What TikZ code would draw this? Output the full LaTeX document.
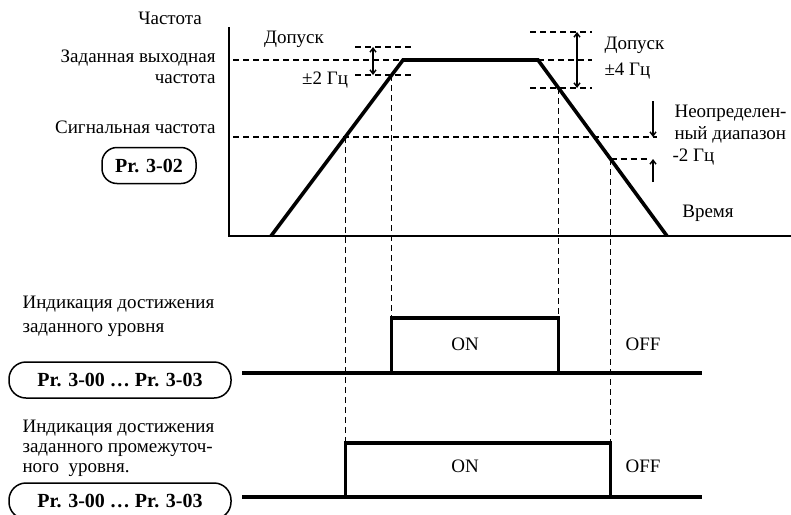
\documentclass[tikz,border=0pt]{standalone}
\usepackage{fontspec}
\setmainfont{Liberation Serif}
\usetikzlibrary{arrows.meta,calc}

\begin{document}
\begin{tikzpicture}[x=1pt,y=-1pt,>={Straight Barb[length=4pt,width=6pt]},
  font=\fontsize{19}{21}\selectfont,
  ramp/.style={line width=3.6pt},
  pulse/.style={line width=3.4pt},
  guide/.style={dash pattern=on 6pt off 4pt,line width=1.4pt},
  prbox/.style={draw,line width=1.5pt,rounded corners=17pt,minimum height=36pt,
    inner sep=2pt,font=\fontsize{20}{22}\selectfont\bfseries}]
  \useasboundingbox (0,0) rectangle (791,514);
  \clip (0,0) rectangle (791,514);
  % axes
  \coordinate (O) at (229,236);
  \draw[line width=1.4pt] (229,27) -- (O) -- (791,236);
  % frequency profile
  \coordinate (r0) at (271,236);
  \coordinate (r1) at (403,60);
  \coordinate (r2) at (538,60);
  \coordinate (r3) at (667,236);
  \draw[ramp,line join=miter] (r0) -- (r1) -- (r2) -- (r3);
  \coordinate (a1) at ($(r0)!{99/176}!(r1)$);
  \coordinate (a2) at ($(r0)!{161/176}!(r1)$);
  \coordinate (a3) at ($(r2)!{28/176}!(r3)$);
  \coordinate (a4) at ($(r2)!{99/176}!(r3)$);
  % levels
  \draw[guide] (233,60) -- (r1);
  \draw[guide] (r2) -- (592,60);
  \draw[guide] (355,47) -- (413,47);
  \draw[guide] (355,75) -- (413,75);
  \draw[<->,line width=1.4pt] (373,47) -- (373,75);
  \draw[guide] (530,32) -- (592,32);
  \draw[guide] (530,88) -- (592,88);
  \draw[<->,line width=1.4pt] (577,32) -- (577,88);
  \draw[guide] (233,137) -- (657,137);
  \draw[guide] (a4) -- (647,159);
  \draw[->,line width=1.4pt] (653,101) -- (653,137);
  \draw[->,line width=1.4pt] (653,182) -- (653,159);
  % signals
  \coordinate (ub) at (242,373);
  \coordinate (ut) at (242,318);
  \coordinate (lb) at (242,497);
  \coordinate (lt) at (242,443);
  \draw[guide] (a1) -- (a1 |- lt);
  \draw[guide] (a2) -- (a2 |- ut);
  \draw[guide] (a3) -- (a3 |- ut);
  \draw[guide] (a4) -- (a4 |- lt);
  \draw[pulse] (ub) -- (702,373);
  \draw[pulse] (a2 |- ub) -- (a2 |- ut) -- (a3 |- ut) -- (a3 |- ub);
  \draw[pulse] (lb) -- (702,497);
  \draw[pulse] (a1 |- lb) -- (a1 |- lt) -- (a4 |- lt) -- (a4 |- lb);
  % labels
  \node[anchor=mid] (freq) at (170,22) {Частота};
  \node[anchor=mid] (tol2) at (294,41) {Допуск};
  \node[anchor=mid] (pm2) at (325,82) {±2 Гц};
  \node[anchor=mid east] (setf) at (219,60) {Заданная выходная};
  \node[anchor=mid east] (setf2) at (219,81) {частота};
  \node[anchor=mid east] (sigf) at (219,131) {Сигнальная частота};
  \node[prbox,minimum width=94pt,rounded corners=15pt] (pr302) at (149,165.5) {Pr. 3-02};
  \node[anchor=mid west] (tol4) at (601,47) {Допуск};
  \node[anchor=mid west] (pm4) at (601,73) {±4 Гц};
  \node[anchor=mid west] (undef) at (671,115) {Неопределен-};
  \node[anchor=mid west] (undef2) at (671,137) {ный диапазон};
  \node[anchor=mid west] (undef3) at (669,159) {-2 Гц};
  \node[anchor=mid] (time) at (708,215) {Время};
  \node[anchor=mid west] (ind1) at (19,306) {Индикация достижения};
  \node[anchor=mid west] (ind1b) at (19,330) {заданного уровня};
  \node[prbox,minimum width=222pt] (prA) at (120,380) {Pr. 3-00 … Pr. 3-03};
  \node[anchor=mid west] (ind2) at (19,430) {Индикация достижения};
  \node[anchor=mid west] (ind2b) at (19,450) {заданного промежуточ-};
  \node[anchor=mid west] (ind2c) at (19,470) {ного\ \ уровня.};
  \node[prbox,minimum width=222pt] (prB) at (120,501) {Pr. 3-00 … Pr. 3-03};
  \node[anchor=mid] (on1) at (465,348) {ON};
  \node[anchor=mid west] (off1) at (622,348) {OFF};
  \node[anchor=mid] (on2) at (465,470) {ON};
  \node[anchor=mid west] (off2) at (622,470) {OFF};
\end{tikzpicture}
\end{document}
